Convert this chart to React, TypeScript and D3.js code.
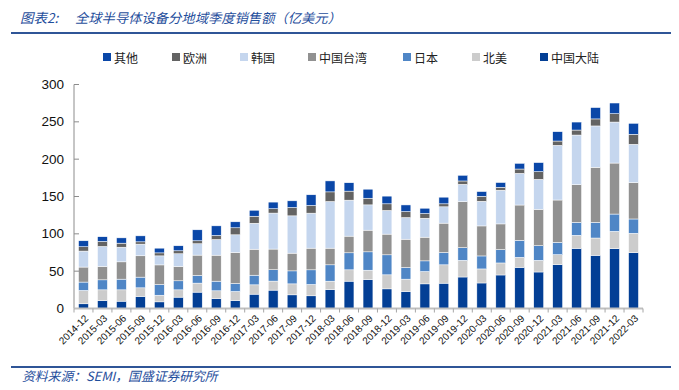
import React from "react";
import * as d3 from "d3";

const quarters = ["2014-12","2015-03","2015-06","2015-09","2015-12","2016-03","2016-06","2016-09","2016-12","2017-03","2017-06","2017-09","2017-12","2018-03","2018-06","2018-09","2018-12","2019-03","2019-06","2019-09","2019-12","2020-03","2020-06","2020-09","2020-12","2021-03","2021-06","2021-09","2021-12","2022-03"];

const mainland = [6.3,10.7,9.8,16.1,8.9,15.2,21.9,13.4,10.7,19.2,24.6,18.3,17.0,25.4,36.6,38.8,26.3,22.8,33.0,33.9,42.2,34.2,44.9,55.1,48.9,58.7,80.6,71.2,80.1,74.8];
const northAmerica = [17.9,14.3,15.2,11.6,8.9,9.8,12.1,10.3,12.1,12.5,12.1,14.7,15.2,11.2,15.2,12.5,18.8,16.5,16.5,24.6,22.3,18.8,16.1,13.4,15.6,13.4,17.4,23.2,23.2,25.9];
const japan = [11.2,13.4,14.3,14.3,14.3,12.1,10.3,12.9,10.7,12.9,15.2,17.4,19.6,21.9,22.8,24.6,26.8,15.6,14.3,16.5,17.0,17.4,17.9,22.8,19.6,16.5,17.4,21.0,23.2,19.2];
const taiwan = [20.1,17.9,23.2,28.6,26.3,19.2,27.2,34.8,41.5,34.8,27.7,23.7,29.0,22.3,22.3,29.0,27.7,37.9,31.7,39.3,61.6,40.2,34.4,47.3,48.7,56.7,50.4,73.7,68.3,48.7];
const korea = [21.4,26.8,19.6,15.6,12.1,17.0,15.2,21.0,23.7,34.8,48.2,50.0,46.9,62.5,48.2,33.9,31.7,29.0,25.4,21.9,23.2,33.0,45.1,42.4,40.2,73.2,66.5,55.4,54.9,51.3];
const europe = [5.8,6.7,5.4,3.1,4.0,4.0,4.0,5.4,9.4,9.4,5.8,11.2,10.3,12.9,12.1,8.9,8.9,8.0,6.3,4.0,4.5,6.7,4.0,5.8,10.3,5.8,6.7,9.4,11.2,13.4];
const other = [8.0,6.3,7.1,8.0,6.3,6.7,14.7,12.9,8.0,8.0,8.9,8.9,14.3,14.7,11.2,12.1,10.3,8.9,7.1,8.9,7.6,6.3,6.3,7.6,12.1,12.5,10.7,15.2,14.3,14.7];

const yTicks = [0, 50, 100, 150, 200, 250, 300];

// stacking order bottom -> top
const seriesKeys = ["中国大陆", "北美", "日本", "中国台湾", "韩国", "欧洲", "其他"];
const seriesValues = [mainland, northAmerica, japan, taiwan, korea, europe, other];
const seriesColors = ["#033f95", "#cccccc", "#4f86c6", "#919191", "#c5d6ee", "#636363", "#0a47a8"];
// legend order
const legendKeys = ["其他", "欧洲", "韩国", "中国台湾", "日本", "北美", "中国大陆"];
const legendX = [103, 172, 240, 308, 403, 472, 540];

export default function App() {
  const W = 679, H = 390;
  const x0 = 74, x1 = 643, yBase = 308.5, yTop = 84.5;
  const x = d3.scaleBand<string>().domain(quarters).range([x0, x1]).paddingInner(0.48).paddingOuter(0.24);
  const y = d3.scaleLinear().domain([0, 300]).range([yBase, yTop]);

  const rows = quarters.map((q, i) => {
    const r: any = { q };
    seriesKeys.forEach((k, j) => (r[k] = seriesValues[j][i]));
    return r;
  });
  const stacked = d3.stack<any>().keys(seriesKeys)(rows);
  const colorOf = (k: string) => seriesColors[seriesKeys.indexOf(k)];
  const step = x.step();
  const cjk = "'Noto Sans CJK SC', sans-serif";

  return (
    <svg width={W} height={H} style={{ position: "absolute", left: 0, top: 0, background: "#fff" }}>
      <text x={20} y={23} fontFamily={cjk} fontSize={13.5} fontStyle="italic" fill="#1f4e9c">
        图表2:
      </text>
      <text x={75} y={23} fontFamily={cjk} fontSize={13.3} fontStyle="italic" fill="#1f4e9c">
        全球半导体设备分地域季度销售额（亿美元）
      </text>
      <line x1={11} x2={671} y1={33} y2={33} stroke="#2f5597" strokeWidth={2} />

      {legendKeys.map((k, i) => (
        <g key={k}>
          <rect x={legendX[i]} y={53} width={8} height={8} fill={colorOf(k)} />
          <text x={legendX[i] + 11} y={57} dominantBaseline="central" fontFamily={cjk} fontSize={12} fill="#222">
            {k}
          </text>
        </g>
      ))}

      {stacked.map((s) => (
        <g key={s.key} fill={colorOf(s.key)}>
          {s.map((d, i) => (
            <rect
              key={i}
              x={x(quarters[i])}
              y={y(d[1])}
              width={x.bandwidth()}
              height={y(d[0]) - y(d[1])}
              stroke="#ffffff"
              strokeWidth={0.5}
            />
          ))}
        </g>
      ))}

      {/* y axis */}
      <line x1={x0} x2={x0} y1={yTop} y2={yBase} stroke="#8c8c8c" strokeWidth={1} />
      {yTicks.map((t) => (
        <g key={t}>
          <line x1={x0} x2={x0 + 5} y1={y(t)} y2={y(t)} stroke="#8c8c8c" strokeWidth={1} />
          <text x={64} y={y(t)} textAnchor="end" dominantBaseline="central" fontFamily="'Liberation Sans', Arial, sans-serif" fontSize={13.5} fill="#111">
            {t}
          </text>
        </g>
      ))}

      {/* x axis */}
      <line x1={x0} x2={x1} y1={yBase} y2={yBase} stroke="#bfbfbf" strokeWidth={2} />
      {d3.range(quarters.length + 1).map((i) => (
        <line key={i} x1={x0 + i * step} x2={x0 + i * step} y1={yBase} y2={yBase + 4} stroke="#a6a6a6" strokeWidth={1} />
      ))}
      {quarters.map((q) => {
        const cx = (x(q) as number) + x.bandwidth() / 2 + 3;
        return (
          <text
            key={q}
            transform={`translate(${cx},${yBase + 8}) rotate(-45)`}
            textAnchor="end"
            dominantBaseline="central"
            fontFamily="'Liberation Sans', Arial, sans-serif"
            fontSize={10}
            fill="#111"
          >
            {q}
          </text>
        );
      })}

      <line x1={11} x2={671} y1={367} y2={367} stroke="#2f5597" strokeWidth={2} />
      <text x={22} y={381} fontFamily={cjk} fontSize={12.8} fontStyle="italic" fill="#1f4e9c">
        资料来源：SEMI，国盛证券研究所
      </text>
    </svg>
  );
}
